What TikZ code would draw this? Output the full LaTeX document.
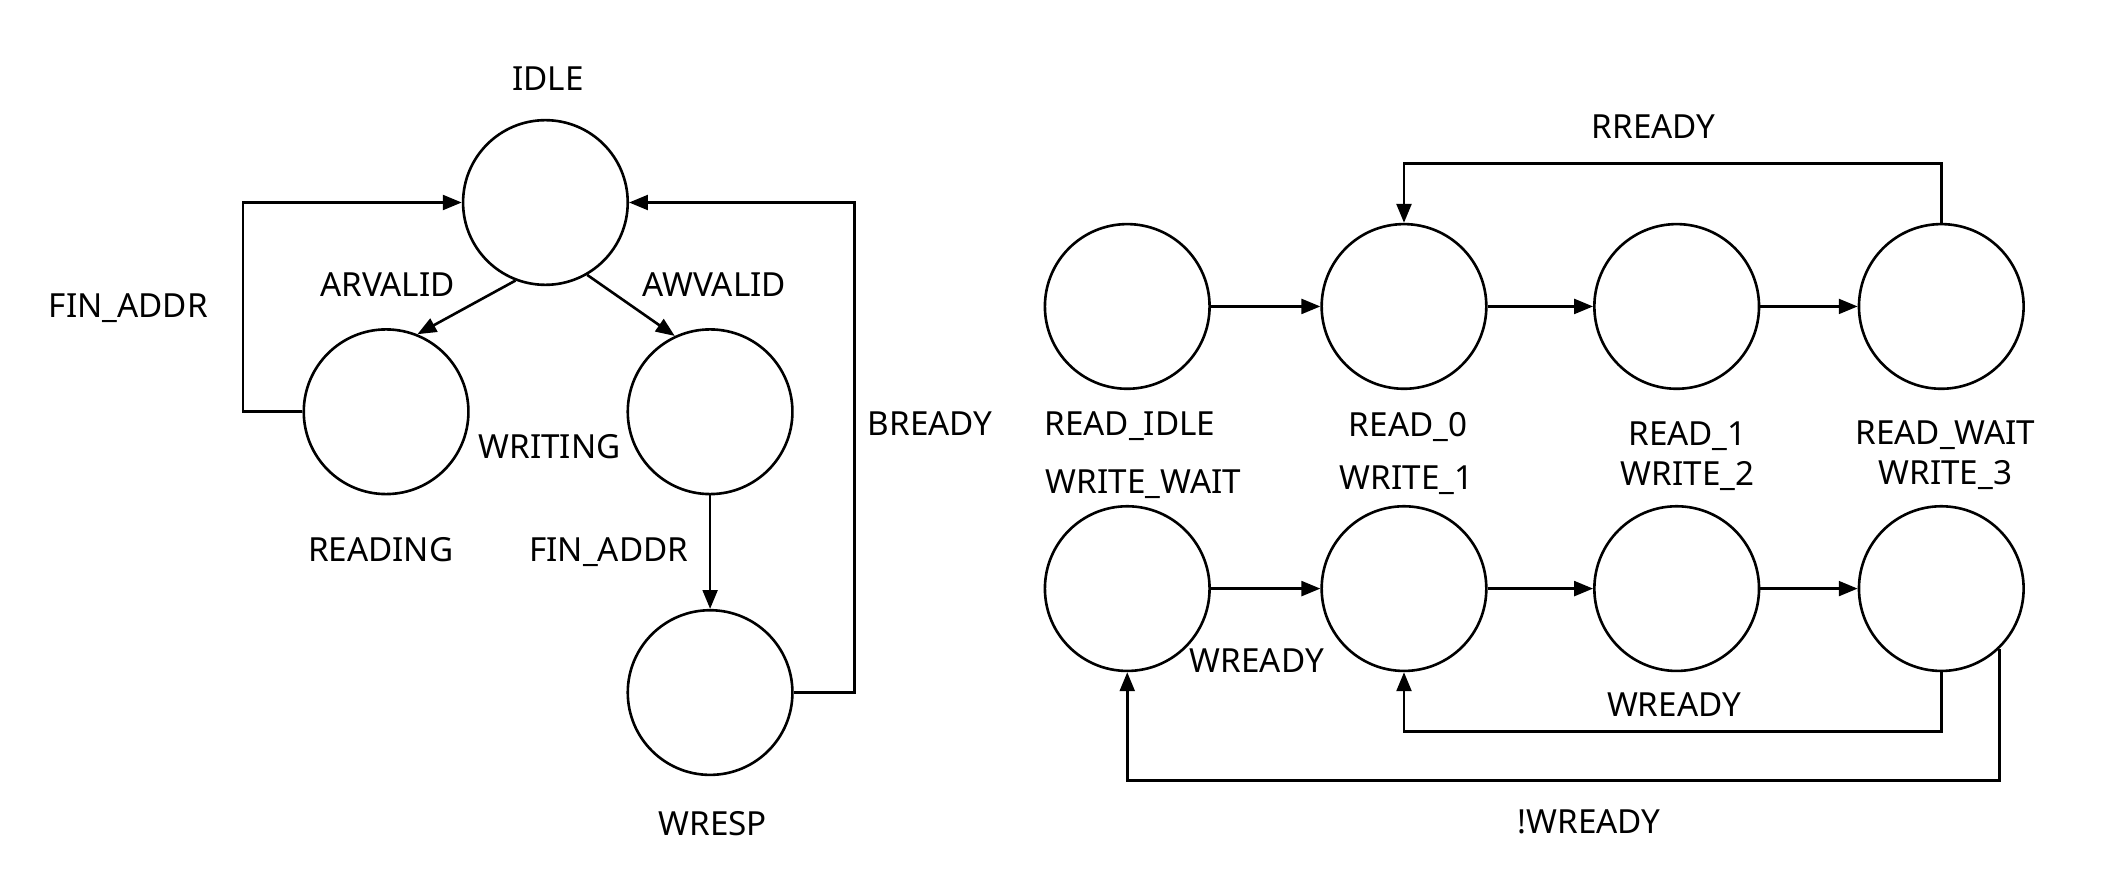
\documentclass[tikz,border=0pt]{standalone}
\usepackage{fontspec}
\setmainfont{Noto Sans}
\usetikzlibrary{arrows.meta}
\begin{document}
\begin{tikzpicture}[x=0.02cm,y=-0.02cm,
  st/.style={circle,draw,line width=1.1pt,minimum size=2.44cm,inner sep=0pt},
  lb/.style={font=\fontsize{14}{17}\selectfont\bfseries,align=center},
  tl/.style={font=\fontsize{14}{17}\selectfont},
  ed/.style={line width=1.1pt,-{Triangle[length=0.28cm,width=0.22cm]}}]
\useasboundingbox (0,0) rectangle (1560,662);
% left FSM
\node[st] (idle) at (404,150) {};
\node[st] (rd) at (286,305) {};
\node[st] (wr) at (526,305) {};
\node[st] (wresp) at (526,513) {};
\node[lb] (lidle) at (406,58) {IDLE};
\node[lb] (lrd) at (282,407) {READING};
\node[lb] (lwr) at (407,331) {WRITING};
\node[lb] (lwresp) at (528,610) {WRESP};
\draw[ed] (rd.west) -- (180,305) |- (idle.west);
\node[tl] (t1) at (95,228) {FIN\_ADDR};
\draw[ed] (idle.-111) -- (rd.68);
\node[tl] (t2) at (287,211) {ARVALID};
\draw[ed] (idle.-60) -- (wr.115);
\node[tl] (t3) at (529,211) {AWVALID};
\draw[ed] (wr.south) -- (wresp.north);
\node[tl] (t4) at (451,409) {FIN\_ADDR};
\draw[ed] (wresp.east) -- (633,513) |- (idle.east);
\node[tl] (t5) at (689,314) {BREADY};
% right FSM
\node[st] (r0) at (835,227) {};
\node[st] (r1) at (1040,227) {};
\node[st] (r2) at (1242,227) {};
\node[st] (r3) at (1438,227) {};
\node[st] (w0) at (835,436) {};
\node[st] (w1) at (1040,436) {};
\node[st] (w2) at (1242,436) {};
\node[st] (w3) at (1438,436) {};
\node[lb] (l1) at (837,316) {READ\_IDLE};
\node[lb] (l2) at (1043,316) {READ\_0};
\node[lb] (l3) at (1250,338) {READ\_1\\WRITE\_2};
\node[lb] (l4) at (1441,337) {READ\_WAIT\\WRITE\_3};
\node[lb] (l5) at (847,359) {WRITE\_WAIT};
\node[lb] (l6) at (1042,356) {WRITE\_1};
\draw[ed] (r0) -- (r1);
\draw[ed] (r1) -- (r2);
\draw[ed] (r2) -- (r3);
\draw[ed] (w0) -- (w1);
\draw[ed] (w1) -- (w2);
\draw[ed] (w2) -- (w3);
\draw[ed] (r3.north) |- (1040,121) -- (r1.north);
\node[tl] (t6) at (1225,94) {RREADY};
\node[tl] (t7) at (931,489) {WREADY};
\draw[ed] (w3.south) |- (1040,542) -- (w1.south);
\node[tl] (t8) at (1240,522) {WREADY};
\draw[ed] (w3.-46) -- (w3.-46 |- 0,578) -| (w0.south);
\node[tl] (t9) at (1177,609) {!WREADY};
\end{tikzpicture}
\end{document}
